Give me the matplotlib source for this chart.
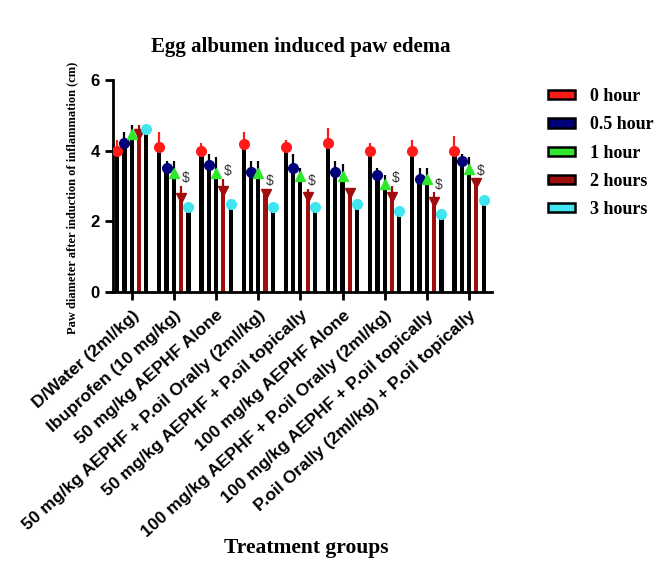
import matplotlib
matplotlib.use("Agg")
import matplotlib.pyplot as plt
import numpy as np
from matplotlib.patches import Patch


GROUPS = [
    "D/Water (2ml/kg)",
    "Ibuprofen (10 mg/kg)",
    "50 mg/kg AEPHF Alone",
    "50 mg/kg AEPHF + P.oil Orally (2ml/kg)",
    "50 mg/kg AEPHF + P.oil topically",
    "100 mg/kg AEPHF Alone",
    "100 mg/kg AEPHF + P.oil Orally (2ml/kg)",
    "100 mg/kg AEPHF + P.oil topically",
    "P.oil Orally (2ml/kg) + P.oil topically",
]

SERIES = ["0 hour", "0.5 hour", "1 hour", "2 hours", "3 hours"]

# mean paw diameter (cm) per time point
MEAN_0H = [4.0, 4.1, 4.0, 4.2, 4.1, 4.22, 4.0, 4.0, 4.0]
MEAN_05H = [4.22, 3.51, 3.6, 3.4, 3.5, 3.4, 3.3, 3.2, 3.7]
MEAN_1H = [4.48, 3.36, 3.36, 3.36, 3.29, 3.29, 3.06, 3.19, 3.49]
MEAN_2H = [4.48, 2.65, 2.86, 2.77, 2.7, 2.8, 2.7, 2.56, 3.1]
MEAN_3H = [4.6, 2.4, 2.5, 2.4, 2.4, 2.49, 2.29, 2.2, 2.6]

# SEM (upper error bar)
ERR_0H = [0.3, 0.42, 0.22, 0.32, 0.21, 0.41, 0.22, 0.31, 0.41]
ERR_05H = [0.3, 0.2, 0.3, 0.32, 0.41, 0.32, 0.2, 0.3, 0.2]
ERR_1H = [0.24, 0.36, 0.45, 0.36, 0.21, 0.32, 0.26, 0.31, 0.32]
ERR_2H = [0.24, 0.36, 0.34, 0.14, 0.21, 0.11, 0.31, 0.26, 0.1]
ERR_3H = [0.0, 0.0, 0.0, 0.0, 0.0, 0.0, 0.0, 0.0, 0.0]

# groups marked with "$" (significance)
DOLLAR = [False, True, True, True, True, False, True, True, True]

BAR_COLORS = ["black", "black", "black", "#a00d0d", "black"]
MARKER_COLORS = ["#ff1a1a", "#00007a", "#2ee82e", "#a00d0d", "#3fe6f0"]
ERR_COLORS = ["#ff1a1a", "black", "black", "#a00d0d", "black"]
MARKERS = ["o", "o", "^", "v", "o"]
LEGEND_FACE = ["#ff1a1a", "#00007a", "#2ee82e", "#a00d0d", "#3fe6f0"]

means = [MEAN_0H, MEAN_05H, MEAN_1H, MEAN_2H, MEAN_3H]
errs = [ERR_0H, ERR_05H, ERR_1H, ERR_2H, ERR_3H]

fig = plt.figure(figsize=(6.67, 5.63), dpi=100)
ax = fig.add_axes([0.169, 0.481, 0.569, 0.377])

x = np.arange(len(GROUPS))
step = 0.173
width = 0.1

for i, name in enumerate(SERIES):
    xs = x + (i - 2) * step
    m = np.array(means[i])
    e = np.array(errs[i])
    ax.bar(xs, m, width=width, color=BAR_COLORS[i], zorder=2)
    ax.vlines(xs, m, m + e, color=ERR_COLORS[i], lw=1.6, zorder=3)
    ax.plot(xs, m, ls="none", marker=MARKERS[i], ms=7,
            color=MARKER_COLORS[i], mec=MARKER_COLORS[i], zorder=4)

for g, flag in enumerate(DOLLAR):
    if flag:
        ax.text(x[g] + 0.27, MEAN_2H[g] + ERR_2H[g] + 0.22, "$",
                fontsize=10, color="#333333", ha="center", va="center",
                family="Liberation Sans")

ax.set_xlim(-0.45, len(GROUPS) - 1 + 0.55)
ax.set_ylim(0, 6)
ax.set_yticks([0, 2, 4, 6])
ax.set_xticks(x)
ax.set_xticklabels(GROUPS, rotation=42, ha="right", rotation_mode="anchor",
                   fontsize=12.6, fontweight="bold", family="Liberation Sans")
for lab in ax.get_yticklabels():
    lab.set_fontsize(12)
    lab.set_fontweight("bold")
    lab.set_family("Liberation Sans")

for s in ["top", "right"]:
    ax.spines[s].set_visible(False)
for s in ["left", "bottom"]:
    ax.spines[s].set_linewidth(2)
ax.tick_params(axis="both", width=2, length=6, direction="out")
ax.tick_params(axis="x", pad=5)

fig.text(301 / 667, 1 - 47 / 563, "Egg albumen induced paw edema",
         fontsize=15, fontweight="bold", family="Liberation Serif",
         ha="center", va="center")
fig.text(72 / 667, 1 - 198 / 563,
         "Paw diameter after induction of inflammation (cm)",
         rotation=90, fontsize=9, fontweight="bold", family="Liberation Serif",
         ha="center", va="center")
fig.text(306 / 667, 1 - 548 / 563, "Treatment groups",
         fontsize=15.5, fontweight="bold", family="Liberation Serif",
         ha="center", va="center")

handles = [Patch(facecolor=c, edgecolor="black", linewidth=1.8) for c in LEGEND_FACE]
leg = fig.legend(handles, SERIES, loc="upper left",
                 bbox_to_anchor=(532 / 667, 1 - 72 / 563), frameon=False,
                 prop={"family": "Liberation Serif", "weight": "bold", "size": 13},
                 handlelength=1.5, handleheight=0.4, labelspacing=0.62,
                 handletextpad=0.8)

fig.savefig("out.png", dpi=100)
